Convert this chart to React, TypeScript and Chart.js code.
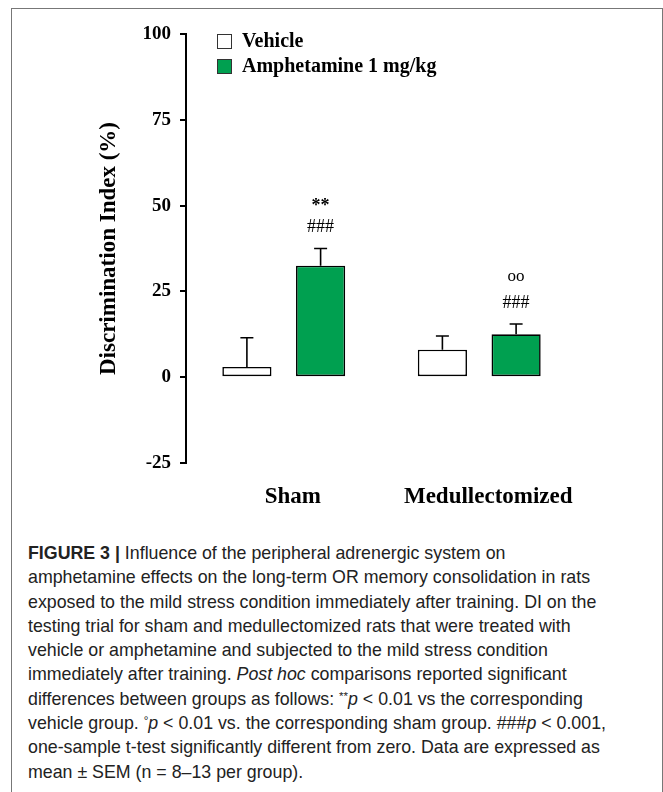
import React, { useEffect, useRef } from "react";
import { Chart, registerables } from "chart.js";

Chart.register(...registerables);

const categories = ["Sham", "Medullectomized"];
const seriesLabels = ["Vehicle", "Amphetamine 1 mg/kg"];
const vehicleMean = [3, 8];
const vehicleSem = [8.5, 4];
const amphMean = [32.5, 12.5];
const amphSem = [5, 3];
const amphMarkUpper = ["**", "oo"];
const amphMarkLower = ["###", "###"];
const yMin = -25;
const yMax = 100;
const yStep = 25;

const GREEN = "#00A050";
const SERIF = "'Liberation Serif', 'Times New Roman', serif";
const CAP_FONT = "'Liberation Sans', Arial, sans-serif";

const sems = [vehicleSem, amphSem];
const upperMarks = [null, amphMarkUpper];
const lowerMarks = [null, amphMarkLower];

const extrasPlugin = {
  id: "extras",
  afterDatasetsDraw(chart: any) {
    const ctx = chart.ctx;
    const yScale = chart.scales.y;
    ctx.save();
    chart.data.datasets.forEach((ds: any, di: number) => {
      const meta = chart.getDatasetMeta(di);
      meta.data.forEach((bar: any, i: number) => {
        const v = ds.data[i];
        const e = sems[di][i];
        const yBar = yScale.getPixelForValue(v);
        const yTop = yScale.getPixelForValue(v + e);
        ctx.strokeStyle = "#000";
        ctx.lineWidth = 1.6;
        ctx.beginPath();
        ctx.moveTo(bar.x, yBar);
        ctx.lineTo(bar.x, yTop);
        ctx.moveTo(bar.x - 6.5, yTop);
        ctx.lineTo(bar.x + 6.5, yTop);
        ctx.stroke();
        const lo = lowerMarks[di];
        const up = upperMarks[di];
        ctx.fillStyle = "#000";
        ctx.textAlign = "center";
        ctx.textBaseline = "middle";
        if (lo && lo[i]) {
          ctx.font = `18px ${SERIF}`;
          ctx.fillText(lo[i], bar.x, yTop - 21);
        }
        if (up && up[i]) {
          ctx.font = up[i] === "oo" ? `17px ${SERIF}` : `bold 18px ${SERIF}`;
          ctx.fillText(up[i], bar.x, yTop - (up[i] === "oo" ? 47 : 42));
        }
      });
    });
    // legend
    const area = chart.chartArea;
    const lx = area.left + 31;
    const ly = area.top;
    chart.data.datasets.forEach((ds: any, di: number) => {
      const y = ly + di * 25;
      ctx.fillStyle = ds.backgroundColor;
      ctx.fillRect(lx, y, 15, 15);
      ctx.strokeStyle = "#333";
      ctx.lineWidth = 1;
      ctx.strokeRect(lx + 0.5, y + 0.5, 14, 14);
      ctx.fillStyle = "#000";
      ctx.font = `bold 20px ${SERIF}`;
      ctx.textAlign = "left";
      ctx.textBaseline = "middle";
      ctx.fillText(ds.label, lx + 25, y + 8);
    });
    ctx.restore();
  },
};

function BarChart() {
  const ref = useRef<HTMLCanvasElement | null>(null);
  useEffect(() => {
    if (!ref.current) return;
    const chart = new Chart(ref.current, {
      type: "bar",
      data: {
        labels: categories,
        datasets: [
          {
            label: seriesLabels[0],
            data: vehicleMean,
            backgroundColor: "#FFFFFF",
            borderColor: "#000",
            borderWidth: 1.6,
            borderSkipped: false,
          },
          {
            label: seriesLabels[1],
            data: amphMean,
            backgroundColor: GREEN,
            borderColor: "#000",
            borderWidth: 1.6,
            borderSkipped: false,
          },
        ],
      },
      options: {
        animation: false,
        responsive: false,
        devicePixelRatio: 1,
        categoryPercentage: 0.754,
        barPercentage: 0.667,
        layout: { padding: { top: 34, right: 86, left: 0, bottom: 0 } },
        plugins: { legend: { display: false }, tooltip: { enabled: false } },
        scales: {
          x: {
            afterFit: (s: any) => {
              s.height = 57;
            },
            grid: { display: false, drawTicks: false },
            border: { display: false },
            ticks: {
              color: "#000",
              padding: 20,
              labelOffset: 9,
              font: { family: SERIF, weight: "bold", size: 23 },
            },
          },
          y: {
            min: yMin,
            max: yMax,
            afterFit: (s: any) => {
              s.width = 186;
            },
            ticks: {
              stepSize: yStep,
              color: "#000",
              padding: 9,
              font: { family: SERIF, weight: "bold", size: 19 },
            },
            grid: { drawOnChartArea: false, drawTicks: true, tickLength: 6, color: "#000", lineWidth: 2 },
            border: { display: true, color: "#000", width: 2 },
            title: {
              display: true,
              text: "Discrimination Index (%)",
              color: "#000",
              font: { family: SERIF, weight: "bold", size: 23 },
              padding: { top: 95, bottom: 0 },
            },
          },
        },
      },
      plugins: [extrasPlugin],
    } as any);
    return () => chart.destroy();
  }, []);
  return <canvas ref={ref} width={663} height={520} style={{ position: "absolute", left: 0, top: 0 }} />;
}

const supStyle: React.CSSProperties = { fontSize: "0.65em", position: "relative", top: "-0.45em", lineHeight: 0 };

const capLines: React.ReactNode[] = [
  <>
    <b>FIGURE 3 |</b> Influence of the peripheral adrenergic system on
  </>,
  <>amphetamine effects on the long-term OR memory consolidation in rats</>,
  <>exposed to the mild stress condition immediately after training. DI on the</>,
  <>testing trial for sham and medullectomized rats that were treated with</>,
  <>vehicle or amphetamine and subjected to the mild stress condition</>,
  <>
    immediately after training. <i>Post hoc</i> comparisons reported significant
  </>,
  <>
    differences between groups as follows: <span style={supStyle}>**</span>
    <i>p</i> &lt; 0.01 vs the corresponding
  </>,
  <>
    vehicle group. <span style={supStyle}>°</span>
    <i>p</i> &lt; 0.01 vs. the corresponding sham group. ###<i>p</i> &lt; 0.001,
  </>,
  <>one-sample t-test significantly different from zero. Data are expressed as</>,
  <>mean ± SEM (n = 8–13 per group).</>,
];

export default function App() {
  return (
    <div style={{ position: "absolute", left: 0, top: 0, width: 663, height: 792, background: "#fff", overflow: "hidden" }}>
      <div
        style={{
          position: "absolute",
          left: 11,
          top: 8,
          width: 650,
          height: 800,
          borderLeft: "1.5px solid #777",
          borderTop: "1.5px solid #777",
          borderRight: "1.5px solid #777",
        }}
      />
      <BarChart />
      <div
        style={{
          position: "absolute",
          left: 28,
          top: 541,
          fontFamily: CAP_FONT,
          fontSize: 17.8,
          color: "#222",
          whiteSpace: "nowrap",
        }}
      >
        {capLines.map((l, i) => (
          <div key={i} style={{ height: 24.3, lineHeight: "24.3px" }}>
            {l}
          </div>
        ))}
      </div>
    </div>
  );
}
